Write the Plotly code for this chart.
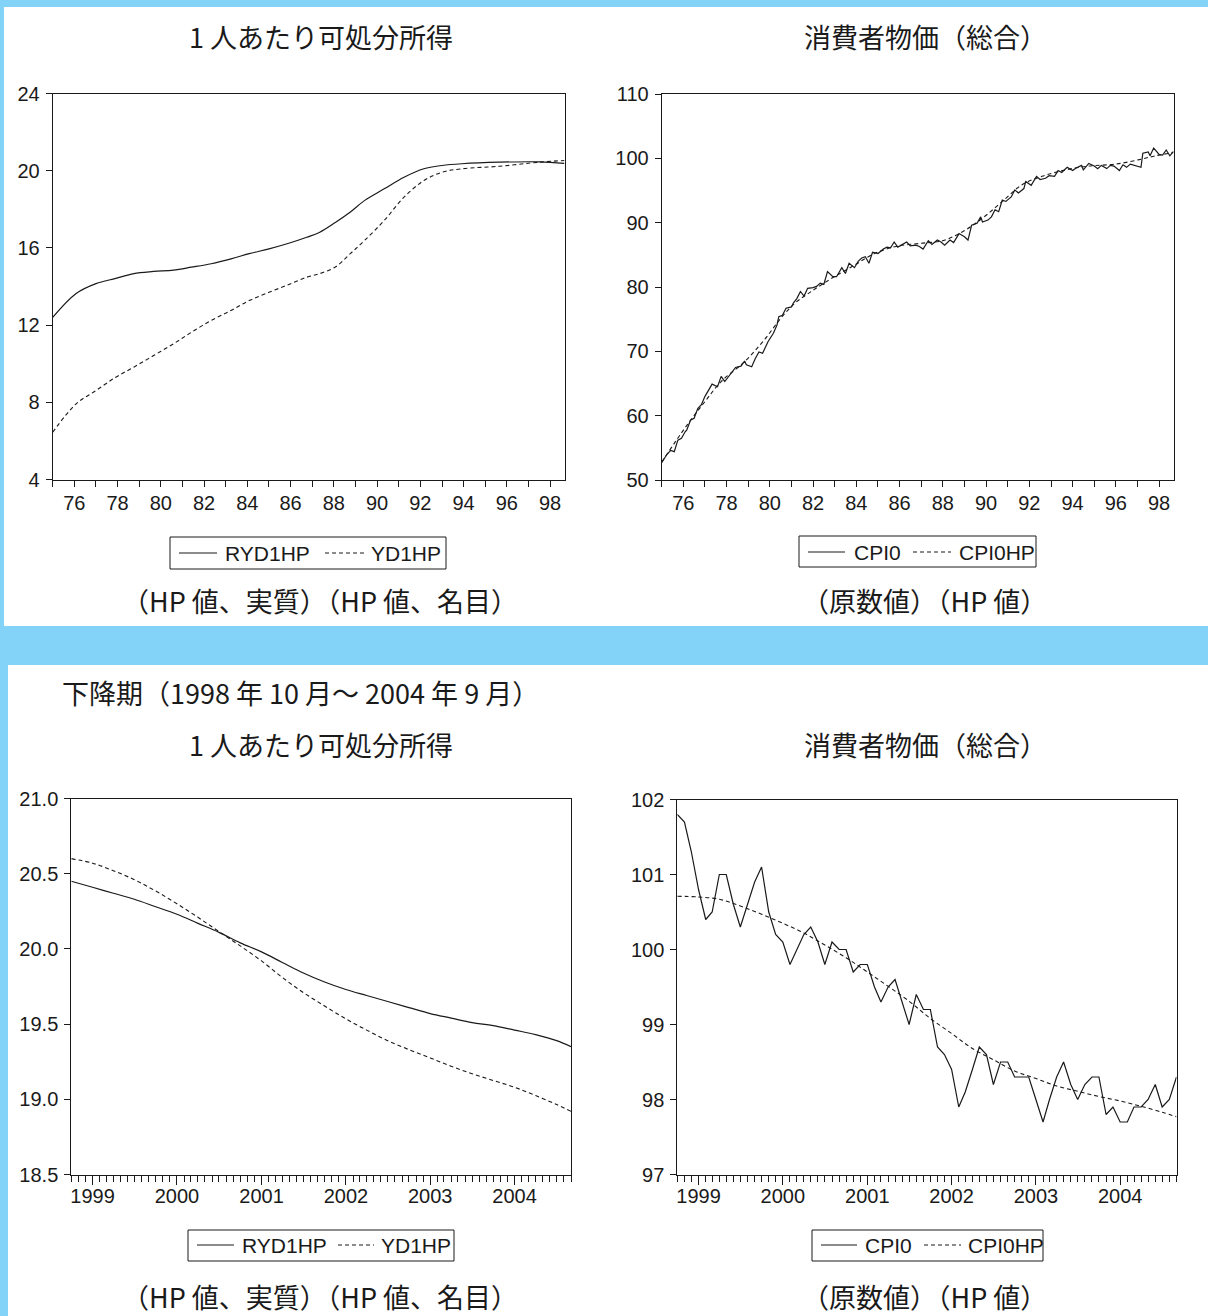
import plotly.graph_objects as go
import pandas as pd

W, H = 1208, 1316
INK = "#1a1a1a"
SKY = "#82d3f7"
JP = "Noto Sans CJK JP"
LAT = "Liberation Sans"


def fx(px):
    return px / W


def fy(py):
    return 1 - py / H


# ---------------- 1975:1 - 1998:9 ----------------
# per-capita disposable income, HP trend (real / nominal)
inc_dates = ["1975-01", "1976-02", "1977-01", "1977-12", "1978-10", "1979-09",
             "1980-08", "1981-06", "1982-05", "1983-04", "1984-02", "1985-01",
             "1985-12", "1986-10", "1987-05", "1988-02", "1988-10", "1989-06",
             "1990-05", "1991-04", "1992-03", "1993-01", "1993-12", "1995-09",
             "1997-07", "1998-09"]
ryd1hp = [12.40, 13.64, 14.15, 14.42, 14.67, 14.78, 14.85, 15.00, 15.18, 15.43,
          15.70, 15.95, 16.24, 16.55, 16.80, 17.33, 17.85, 18.45, 19.06, 19.66,
          20.10, 20.27, 20.36, 20.44, 20.46, 20.38]
yd1hp = [6.45, 7.92, 8.61, 9.30, 9.82, 10.42, 11.03, 11.63, 12.24, 12.76,
         13.27, 13.70, 14.10, 14.48, 14.66, 15.02, 15.69, 16.38, 17.42, 18.63,
         19.49, 19.92, 20.10, 20.23, 20.44, 20.53]

# consumer price index (all items), original series
cpi_dates = ["1975-01", "1975-04", "1975-06", "1975-08", "1975-10", "1975-12",
             "1976-02", "1976-03", "1976-05", "1976-07", "1976-09", "1976-11",
             "1977-01", "1977-03", "1977-05", "1977-08", "1977-10", "1977-12",
             "1978-03", "1978-06", "1978-09", "1978-11", "1978-12", "1979-03",
             "1979-05", "1979-07", "1979-09", "1979-11", "1979-12", "1980-03",
             "1980-05", "1980-06", "1980-08", "1980-10", "1981-01", "1981-02",
             "1981-04", "1981-06", "1981-08", "1981-10", "1982-01", "1982-03",
             "1982-05", "1982-07", "1982-09", "1982-12", "1983-02", "1983-05",
             "1983-07", "1983-09", "1983-12", "1984-02", "1984-04", "1984-06",
             "1984-08", "1984-10", "1985-01", "1985-04", "1985-06", "1985-08",
             "1985-10", "1985-12", "1986-03", "1986-05", "1986-07", "1986-10",
             "1986-12", "1987-02", "1987-05", "1987-07", "1987-10", "1987-12",
             "1988-02", "1988-05", "1988-07", "1988-10", "1989-01", "1989-03",
             "1989-05", "1989-08", "1989-10", "1989-11", "1990-02", "1990-04",
             "1990-06", "1990-08", "1990-10", "1990-12", "1991-03", "1991-05",
             "1991-07", "1991-10", "1991-11", "1992-02", "1992-05", "1992-07",
             "1992-10", "1992-12", "1993-03", "1993-05", "1993-07", "1993-10",
             "1994-01", "1994-03", "1994-06", "1994-07", "1994-10", "1995-01",
             "1995-03", "1995-05", "1995-08", "1995-10", "1995-12", "1996-03",
             "1996-05", "1996-07", "1996-09", "1996-12", "1997-03", "1997-04",
             "1997-07", "1997-08", "1997-10", "1998-01", "1998-03", "1998-05",
             "1998-07", "1998-09"]
cpi0 = [52.7, 54.0, 54.6, 54.4, 56.2, 56.5, 57.5, 57.8, 59.3, 59.6,
        61.1, 61.7, 63.0, 64.0, 64.9, 64.5, 66.1, 65.3, 66.4, 67.5,
        67.7, 68.5, 67.9, 67.6, 68.9, 69.9, 69.7, 71.0, 71.5, 72.8,
        74.1, 75.4, 75.6, 76.7, 76.9, 77.5, 78.2, 79.3, 78.6, 79.8,
        79.9, 80.1, 80.6, 80.4, 82.4, 81.6, 81.6, 83.0, 82.1, 83.7,
        83.0, 84.0, 84.5, 84.7, 83.7, 85.4, 85.2, 85.9, 86.2, 86.1,
        87.0, 86.2, 86.6, 87.0, 86.4, 86.5, 86.3, 85.9, 87.2, 86.6,
        87.3, 87.0, 86.5, 87.3, 86.9, 88.3, 87.8, 87.3, 89.6, 89.9,
        90.9, 90.1, 90.4, 90.9, 92.0, 91.7, 93.5, 93.3, 94.0, 95.1,
        94.6, 95.3, 96.4, 95.8, 97.2, 96.7, 96.9, 97.3, 97.2, 98.1,
        97.8, 98.6, 98.1, 98.5, 98.9, 98.2, 99.2, 98.8, 98.4, 98.9,
        98.4, 98.9, 98.8, 98.1, 99.0, 98.6, 99.1, 98.9, 98.6, 100.8,
        101.0, 100.4, 101.6, 100.6, 100.5, 101.3, 100.4, 101.1]

# consumer price index, HP trend
cpihp_dates = ["1975-01", "1976-03", "1977-01", "1977-10", "1978-11", "1979-10",
               "1980-07", "1981-03", "1981-12", "1982-11", "1983-12", "1984-11",
               "1985-11", "1987-01", "1988-01", "1988-12", "1989-11", "1990-10",
               "1991-09", "1992-08", "1993-09", "1994-10", "1996-01", "1997-02",
               "1997-11", "1998-09"]
cpi0hp = [52.8, 58.5, 62.2, 65.3, 68.4, 71.8, 75.1, 77.5, 79.3, 81.3,
          83.4, 85.2, 86.3, 86.8, 87.2, 88.6, 90.7, 93.3, 95.9, 97.2,
          98.2, 98.8, 99.1, 99.8, 100.4, 100.9]

# ---------------- 1998:10 - 2004:9 (decline phase) ----------------
q_dates = ["1998-10", "1999-01", "1999-04", "1999-07", "1999-10", "2000-01",
           "2000-04", "2000-07", "2000-10", "2001-01", "2001-04", "2001-07",
           "2001-10", "2002-01", "2002-04", "2002-07", "2002-10", "2003-01",
           "2003-04", "2003-07", "2003-10", "2004-01", "2004-04", "2004-07",
           "2004-09"]
ryd1hp_b = [20.45, 20.41, 20.37, 20.33, 20.28, 20.23, 20.17, 20.11, 20.04, 19.98,
            19.91, 19.84, 19.78, 19.73, 19.69, 19.65, 19.61, 19.57, 19.54, 19.51,
            19.49, 19.46, 19.43, 19.39, 19.35]
yd1hp_b = [20.60, 20.57, 20.52, 20.46, 20.385, 20.30, 20.21, 20.115, 20.02, 19.92,
           19.81, 19.71, 19.62, 19.535, 19.46, 19.39, 19.33, 19.275, 19.22, 19.17,
           19.125, 19.08, 19.025, 18.965, 18.92]
cpi0hp_b = [100.71, 100.70, 100.67, 100.58, 100.47, 100.35, 100.22, 100.06, 99.89, 99.70,
            99.51, 99.31, 99.08, 98.88, 98.68, 98.53, 98.38, 98.28, 98.18, 98.11,
            98.04, 97.98, 97.91, 97.83, 97.77]

m_dates = pd.date_range("1998-10-01", "2004-09-01", freq="MS")
cpi0_b = [101.8, 101.7, 101.3, 100.8, 100.4, 100.5, 101.0, 101.0, 100.6, 100.3,
          100.6, 100.9, 101.1, 100.5, 100.2, 100.1, 99.8, 100.0, 100.2, 100.3,
          100.1, 99.8, 100.1, 100.0, 100.0, 99.7, 99.8, 99.8, 99.5, 99.3,
          99.5, 99.6, 99.3, 99.0, 99.4, 99.2, 99.2, 98.7, 98.6, 98.4,
          97.9, 98.1, 98.4, 98.7, 98.6, 98.2, 98.5, 98.5, 98.3, 98.3,
          98.3, 98.0, 97.7, 98.0, 98.3, 98.5, 98.2, 98.0, 98.2, 98.3,
          98.3, 97.8, 97.9, 97.7, 97.7, 97.9, 97.9, 98.0, 98.2, 97.9,
          98.0, 98.3]

# ---------------- text ----------------
title_income = "1 人あたり可処分所得"
title_cpi = "消費者物価（総合）"
note_income = "（HP 値、実質）（HP 値、名目）"
note_cpi = "（原数値）（HP 値）"
period_label = "下降期（1998 年 10 月～ 2004 年 9 月）"

DASH = "4px,3px"

fig = go.Figure()


def solid(x, y, xa, ya, shape="linear"):
    fig.add_trace(go.Scatter(x=x, y=y, mode="lines", xaxis=xa, yaxis=ya,
                             line=dict(color=INK, width=1.2, shape=shape, smoothing=1.0),
                             showlegend=False, hoverinfo="skip"))


def dashed(x, y, xa, ya):
    fig.add_trace(go.Scatter(x=x, y=y, mode="lines", xaxis=xa, yaxis=ya,
                             line=dict(color=INK, width=1.1, dash=DASH,
                                       shape="spline", smoothing=1.0),
                             showlegend=False, hoverinfo="skip"))


solid(inc_dates, ryd1hp, "x", "y", "spline")
dashed(inc_dates, yd1hp, "x", "y")
dashed(cpihp_dates, cpi0hp, "x2", "y2")
solid(cpi_dates, cpi0, "x2", "y2")
solid(q_dates, ryd1hp_b, "x3", "y3", "spline")
dashed(q_dates, yd1hp_b, "x3", "y3")
dashed(q_dates, cpi0hp_b, "x4", "y4")
solid(m_dates, cpi0_b, "x4", "y4")

axis_common = dict(showline=True, linewidth=1, linecolor=INK, mirror=True,
                   ticks="outside", tickwidth=1, tickcolor=INK,
                   showgrid=False, zeroline=False, automargin=False,
                   tickfont=dict(family=LAT, size=20, color=INK))


def x_top(left, right, anchor):
    return dict(axis_common, type="date", anchor=anchor,
                domain=[fx(left), fx(right)],
                range=["1975-01-01", "1998-09-01"],
                tick0="1976-01-01", dtick="M24", tickformat="%y", ticklen=6,
                ticklabelstandoff=-1,
                minor=dict(tick0="1975-01-01", dtick="M12", ticks="outside",
                           ticklen=6, tickwidth=1, tickcolor=INK, showgrid=False))


def x_bottom(left, right, anchor):
    return dict(axis_common, type="date", anchor=anchor,
                domain=[fx(left), fx(right)],
                range=["1998-10-01", "2004-09-01"],
                tick0="1999-01-01", dtick="M12", tickformat="%Y", ticklen=9,
                ticklabelstandoff=-6,
                minor=dict(dtick="M1", ticks="outside", ticklen=6, tickwidth=1,
                           tickcolor=INK, showgrid=False))


def y_axis(top, bottom, rng, dtick, anchor, fmt=None):
    d = dict(axis_common, anchor=anchor, domain=[fy(bottom), fy(top)],
             range=rng, tick0=rng[0], dtick=dtick, ticklen=6, ticklabelstandoff=2)
    if fmt:
        d["tickformat"] = fmt
    return d


# white panels on the blue page
shapes = [
    dict(type="rect", xref="paper", yref="paper", layer="below",
         x0=fx(4), x1=1, y0=fy(626), y1=fy(7), fillcolor="white", line_width=0),
    dict(type="rect", xref="paper", yref="paper", layer="below",
         x0=fx(8), x1=1, y0=0, y1=fy(665), fillcolor="white", line_width=0),
]
annotations = []


def legend_box(box, solid_seg, solid_label, dash_seg, dash_label, yc):
    x0, x1, y0, y1 = box
    shapes.append(dict(type="rect", xref="paper", yref="paper",
                       x0=fx(x0), x1=fx(x1), y0=fy(y1), y1=fy(y0),
                       fillcolor="white", line=dict(color=INK, width=1)))
    shapes.append(dict(type="line", xref="paper", yref="paper",
                       x0=fx(solid_seg[0]), x1=fx(solid_seg[1]), y0=fy(yc), y1=fy(yc),
                       line=dict(color=INK, width=1.2)))
    shapes.append(dict(type="line", xref="paper", yref="paper",
                       x0=fx(dash_seg[0]), x1=fx(dash_seg[1]), y0=fy(yc), y1=fy(yc),
                       line=dict(color=INK, width=1.1, dash=DASH)))
    for text, xl in ((solid_label, solid_seg[2]), (dash_label, dash_seg[2])):
        annotations.append(dict(xref="paper", yref="paper", x=fx(xl), y=fy(yc),
                                text=text, showarrow=False, xanchor="left",
                                yanchor="middle", xshift=-2,
                                font=dict(family=LAT, size=21, color=INK)))


legend_box((170, 446, 537, 569), (179, 217, 225), "RYD1HP", (325, 364, 371), "YD1HP", 553)
legend_box((799, 1036, 536, 567), (808, 845, 854), "CPI0", (913, 951, 959), "CPI0HP", 552)
legend_box((188, 454, 1230, 1261), (197, 234, 242), "RYD1HP", (338, 374, 381), "YD1HP", 1245)
legend_box((812, 1043, 1230, 1261), (821, 857, 865), "CPI0", (924, 961, 968), "CPI0HP", 1245)


def jp_text(text, x, y, anchor="center"):
    annotations.append(dict(xref="paper", yref="paper", x=fx(x), y=fy(y),
                            text=text, showarrow=False, xanchor=anchor,
                            yanchor="middle",
                            font=dict(family=JP, size=27, color=INK)))


jp_text(title_income, 321, 37)
jp_text(title_cpi, 925, 37)
jp_text(note_income, 320, 601)
jp_text(note_cpi, 924, 601)
jp_text(period_label, 60, 693, "left")
jp_text(title_income, 321, 744)
jp_text(title_cpi, 925, 744)
jp_text(note_income, 320, 1296)
jp_text(note_cpi, 924, 1296)

fig.update_layout(
    width=W, height=H, autosize=False,
    margin=dict(l=0, r=0, t=0, b=0, pad=0, autoexpand=False),
    paper_bgcolor=SKY, plot_bgcolor="white",
    font=dict(family=LAT, color=INK),
    showlegend=False,
    xaxis=x_top(52.7, 564.5, "y"),
    yaxis=y_axis(93.5, 479.5, [4, 24], 4, "x"),
    xaxis2=x_top(661.7, 1173.5, "y2"),
    yaxis2=y_axis(94, 480, [50, 110], 10, "x2"),
    xaxis3=x_bottom(71.3, 571, "y3"),
    yaxis3=y_axis(798.5, 1174.5, [18.5, 21.0], 0.5, "x3", ".1f"),
    xaxis4=x_bottom(677.3, 1176.5, "y4"),
    yaxis4=y_axis(799.5, 1174.5, [97, 102], 1, "x4"),
    shapes=shapes,
    annotations=annotations,
)

fig.write_html("out.html")
